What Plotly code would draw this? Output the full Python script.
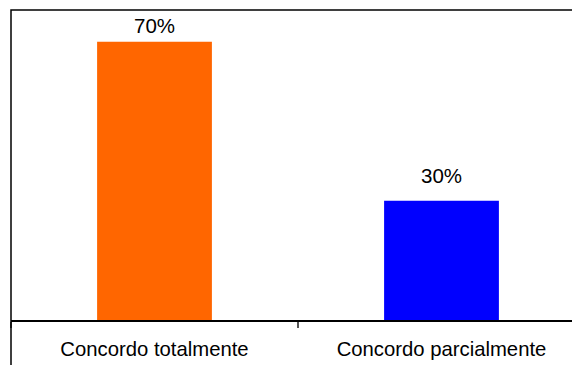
import plotly.graph_objects as go

categories = ["Concordo totalmente", "Concordo parcialmente"]
values = [70, 30]
labels = ["70%", "30%"]
colors = ["#FF6600", "#0000FF"]

W, H = 572, 365
ML, MT, MB = 11, 10, 45

fig = go.Figure(
    go.Bar(
        x=categories,
        y=values,
        marker=dict(color=colors, line=dict(width=0)),
        width=0.4,
        hoverinfo="skip",
    )
)

# value labels above each bar
label_shift = [3, 12]
for c, v, t, s in zip(categories, values, labels, label_shift):
    fig.add_annotation(
        x=c, y=v, text=t, showarrow=False,
        yanchor="bottom", yshift=s,
        font=dict(family="Liberation Sans, Arial", size=20.5, color="#000000"),
    )

# category slot is 287px wide; the plot runs past the right edge
plot_w = W - ML
slot = 287.0
fig.update_xaxes(
    type="category",
    range=[-0.5, -0.5 + plot_w / slot],
    showline=True, linecolor="#000000", linewidth=1.5,
    ticks="outside", tickson="boundaries", ticklen=6, tickwidth=1.5,
    tickcolor="#555555",
    ticklabelstandoff=10,
    tickfont=dict(family="Liberation Sans, Arial", size=20.3, color="#000000"),
    showgrid=False, zeroline=False, fixedrange=True,
)
fig.update_yaxes(
    range=[0, 78], visible=False, showgrid=False, zeroline=False, fixedrange=True,
)

# chart frame (left and top edges visible)
fig.add_shape(
    type="rect", xref="paper", yref="paper",
    x0=0, x1=1.2, y0=-0.5, y1=1,
    line=dict(color="#000000", width=1.5),
    fillcolor="rgba(0,0,0,0)", layer="above",
)

fig.update_layout(
    width=W, height=H,
    margin=dict(l=ML, r=0, t=MT, b=MB, pad=0),
    paper_bgcolor="#FFFFFF", plot_bgcolor="#FFFFFF",
    showlegend=False, bargap=0.6,
)

fig.write_html("out.html", config={"displayModeBar": False})
